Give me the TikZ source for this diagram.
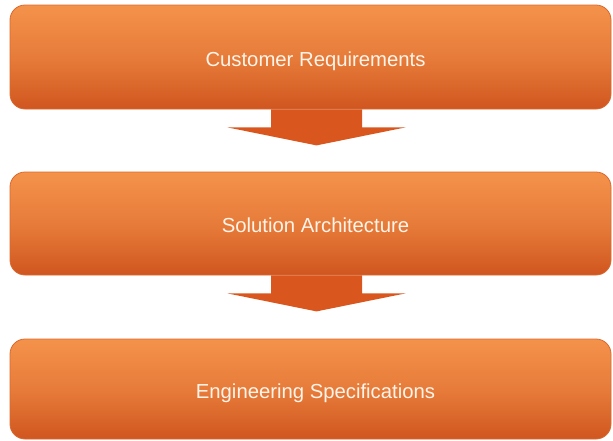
\documentclass[tikz,border=0pt]{standalone}
\usepackage{fontspec}
\setmainfont{Liberation Sans}
\usetikzlibrary{calc}
\definecolor{boxtop}{HTML}{F4924A}
\definecolor{boxmid}{HTML}{E77C3A}
\definecolor{boxbot}{HTML}{D0561F}
\definecolor{boxline}{HTML}{D9692E}
\definecolor{arrowfill}{HTML}{D9571F}
\definecolor{boxtext}{HTML}{FFF4EA}
\tikzset{
  stagebox/.style={draw=boxline, line width=0.8pt, rounded corners=15pt,
    top color=boxtop, bottom color=boxbot, middle color=boxmid,
    minimum width=601pt, text=boxtext, font=\fontsize{20.3}{23}\selectfont,
    inner sep=0pt, text height=23pt, text depth=4.3pt,
    execute at begin node={\hspace*{10pt}}},
  blockarrow/.style={fill=arrowfill, draw=none}
}
\begin{document}
\begin{tikzpicture}[x=1pt,y=-1pt]
\useasboundingbox (0,0) rectangle (613,440);
\node[stagebox, minimum height=104pt] (b1) at (310.5,57) {Customer Requirements};
\node[stagebox, minimum height=103pt] (b2) at (310.5,223.5) {Solution Architecture};
\node[stagebox, minimum height=100pt] (b3) at (310.5,389) {Engineering Specifications};
% arrow 1
\coordinate (a1) at ($(b1.south)+(6,0)$);
\fill[blockarrow] ($(a1)+(-45.5,0)$) -- ($(a1)+(45.5,0)$) -- ($(a1)+(45.5,18)$)
  -- ($(a1)+(89,18)$) -- ($(a1)+(0,36)$) -- ($(a1)+(-89,18)$) -- ($(a1)+(-45.5,18)$) -- cycle;
% arrow 2
\coordinate (a2) at ($(b2.south)+(6,0)$);
\fill[blockarrow] ($(a2)+(-45.5,0)$) -- ($(a2)+(45.5,0)$) -- ($(a2)+(45.5,18)$)
  -- ($(a2)+(89,18)$) -- ($(a2)+(0,36)$) -- ($(a2)+(-89,18)$) -- ($(a2)+(-45.5,18)$) -- cycle;
\end{tikzpicture}
\end{document}
